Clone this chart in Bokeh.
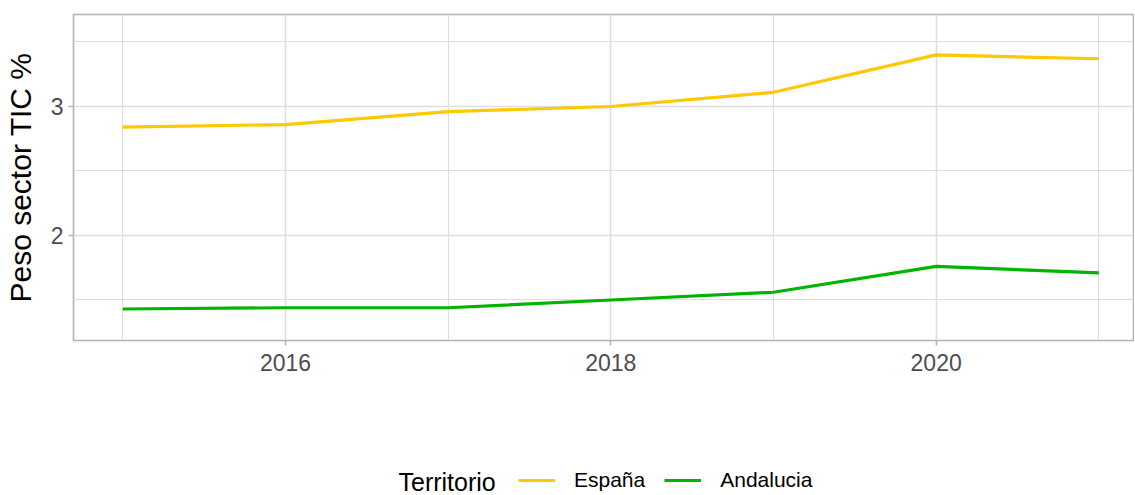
from bokeh.plotting import figure
from bokeh.layouts import column
from bokeh.models import (FixedTicker, Range1d, Legend, LegendItem, Label)
from bokeh.embed import file_html
from bokeh.resources import INLINE

# ---- data ----
years = [2015, 2016, 2017, 2018, 2019, 2020, 2021]
espana = [2.84, 2.86, 2.96, 3.00, 3.11, 3.40, 3.37]
andalucia = [1.43, 1.44, 1.44, 1.50, 1.56, 1.76, 1.71]
series_names = ["España", "Andalucia"]
series_colors = ["#FFC800", "#00B400"]
x_major = [2016, 2018, 2020]
x_minor = [2015, 2017, 2019, 2021]
y_major = [2, 3]
y_minor = [1.5, 2.5, 3.5]
y_title = "Peso sector TIC %"
legend_title = "Territorio"

FONT = "Liberation Sans"
W = 1134
LEFT = 73

p = figure(width=W, height=455, output_backend="svg", toolbar_location=None,
           x_range=Range1d(2014.697, 2021.213), y_range=Range1d(1.186, 3.713),
           min_border_left=LEFT, min_border_top=14, min_border_right=1,
           min_border_bottom=115)
p.background_fill_color = "white"
p.border_fill_color = "white"
p.outline_line_color = "#B3B3B3"
p.outline_line_width = 1.6

p.xaxis.ticker = FixedTicker(ticks=x_major, minor_ticks=x_minor)
p.yaxis.ticker = FixedTicker(ticks=y_major, minor_ticks=y_minor)

for ax in (p.xaxis[0], p.yaxis[0]):
    ax.axis_line_color = None
    ax.major_tick_line_color = "#B3B3B3"
    ax.major_tick_line_width = 1.6
    ax.major_tick_in = 0
    ax.major_tick_out = 5
    ax.minor_tick_in = 0
    ax.minor_tick_out = 0
    ax.major_label_text_font = FONT
    ax.major_label_text_font_size = "23px"
    ax.major_label_text_color = "#4D4D4D"
p.xaxis.major_label_standoff = 8
p.yaxis.major_label_standoff = 5

p.yaxis.axis_label = y_title
p.yaxis.axis_label_text_font = FONT
p.yaxis.axis_label_text_font_size = "30px"
p.yaxis.axis_label_text_font_style = "normal"
p.yaxis.axis_label_text_color = "black"
p.yaxis.axis_label_standoff = 11

for g in (p.xgrid[0], p.ygrid[0]):
    g.grid_line_color = "#DEDEDE"
    g.grid_line_width = 1.6
    g.minor_grid_line_color = "#DEDEDE"
    g.minor_grid_line_width = 1.2

p.line(years, espana, line_color=series_colors[0], line_width=3.2)
p.line(years, andalucia, line_color=series_colors[1], line_width=3.2)

# ---- legend strip (separate figure so nothing is clipped) ----
q = figure(width=W, height=39, output_backend="svg", toolbar_location=None,
           x_range=Range1d(0, 1), y_range=Range1d(0, 1),
           x_axis_location=None, y_axis_location=None,
           min_border_left=0, min_border_right=0, min_border_top=0,
           min_border_bottom=0)
q.grid.visible = False
q.outline_line_color = None
q.background_fill_color = "white"
q.border_fill_color = "white"

# key renderers sit outside the visible range; only their legend swatches show
k1 = q.line([-10, -9], [-10, -9], line_color=series_colors[0], line_width=3.2)
k2 = q.line([-10, -9], [-10, -9], line_color=series_colors[1], line_width=3.2)

legend = Legend(items=[LegendItem(label=series_names[0], renderers=[k1]),
                       LegendItem(label=series_names[1], renderers=[k2])],
                orientation="horizontal", location=(518 - LEFT, 2))
legend.border_line_color = None
legend.background_fill_alpha = 0
legend.padding = 0
legend.margin = 0
legend.spacing = 19
legend.label_standoff = 19
legend.glyph_width = 37
legend.glyph_height = 22
legend.label_height = 22
legend.label_text_font = FONT
legend.label_text_font_size = "21px"
legend.label_text_color = "black"
q.add_layout(legend, "center")

lab = Label(x=398 - LEFT, y=13, x_units="screen", y_units="screen", text=legend_title,
            text_font=FONT, text_font_size="25px", text_color="black",
            text_baseline="middle", text_align="left")
q.add_layout(lab)

layout = column(p, q, spacing=0)
open("out.html", "w").write(file_html(layout, INLINE))
